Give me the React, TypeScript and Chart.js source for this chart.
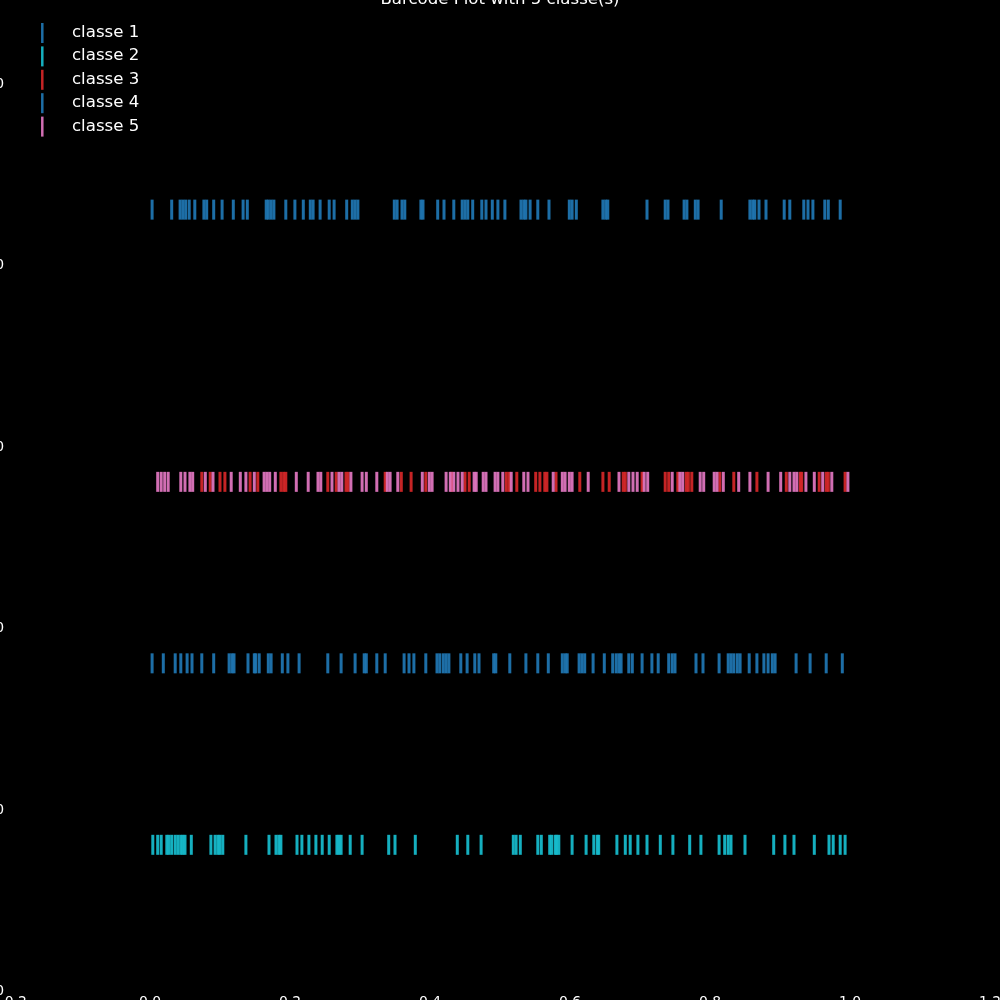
import React, { useEffect, useRef } from "react";
import { Chart, registerables } from "chart.js";

Chart.register(...registerables);

// ---------------- data ----------------
const TITLE = "Barcode Plot with 5 classe(s)";
const CLASS_NAMES = ["classe 1", "classe 2", "classe 3", "classe 4", "classe 5"];
// y value (row) of each class barcode
const CLASS_ROWS = [4.3, 0.8, 2.8, 1.8, 2.8];

const CLASSE_1 = [
  0.003, 0.031, 0.043, 0.047, 0.051, 0.056, 0.064, 0.077, 0.081, 0.091, 0.103, 0.119, 0.133, 0.139,
  0.166, 0.169, 0.173, 0.177, 0.194, 0.207, 0.219, 0.229, 0.233, 0.243, 0.256, 0.263, 0.281, 0.289,
  0.293, 0.297, 0.349, 0.353, 0.36, 0.364, 0.387, 0.39, 0.411, 0.42, 0.434, 0.446, 0.45, 0.454,
  0.461, 0.474, 0.48, 0.489, 0.497, 0.507, 0.53, 0.534, 0.537, 0.543, 0.554, 0.57, 0.599, 0.603,
  0.609, 0.647, 0.651, 0.654, 0.71, 0.736, 0.74, 0.763, 0.767, 0.779, 0.783, 0.816, 0.857, 0.861,
  0.864, 0.87, 0.88, 0.906, 0.914, 0.934, 0.94, 0.947, 0.964, 0.969, 0.986,
];

const CLASSE_2 = [
  0.004, 0.011, 0.016, 0.024, 0.027, 0.031, 0.036, 0.04, 0.044, 0.047, 0.05, 0.059, 0.087, 0.093,
  0.097, 0.1, 0.104, 0.137, 0.17, 0.18, 0.184, 0.187, 0.21, 0.217, 0.227, 0.237, 0.246, 0.256,
  0.267, 0.27, 0.273, 0.286, 0.303, 0.341, 0.35, 0.379, 0.439, 0.454, 0.473, 0.519, 0.523, 0.529,
  0.554, 0.559, 0.571, 0.574, 0.579, 0.581, 0.584, 0.603, 0.623, 0.634, 0.639, 0.641, 0.667, 0.679,
  0.686, 0.697, 0.71, 0.729, 0.747, 0.771, 0.787, 0.813, 0.821, 0.826, 0.83, 0.85, 0.891, 0.907,
  0.92, 0.949, 0.97, 0.976, 0.986, 0.993,
];

const CLASSE_3 = [
  0.074, 0.086, 0.1, 0.107, 0.143, 0.154, 0.187, 0.191, 0.194, 0.254, 0.266, 0.28, 0.283, 0.336,
  0.359, 0.373, 0.394, 0.431, 0.45, 0.456, 0.509, 0.513, 0.524, 0.551, 0.557, 0.564, 0.567, 0.58,
  0.614, 0.647, 0.656, 0.676, 0.679, 0.703, 0.736, 0.741, 0.754, 0.766, 0.769, 0.774, 0.814, 0.834,
  0.867, 0.909, 0.929, 0.931, 0.956, 0.966, 0.969, 0.993,
];

const CLASSE_4 = [
  0.003, 0.019, 0.036, 0.044, 0.053, 0.06, 0.074, 0.091, 0.113, 0.117, 0.12, 0.14, 0.149, 0.151,
  0.156, 0.169, 0.173, 0.189, 0.197, 0.213, 0.254, 0.273, 0.293, 0.306, 0.309, 0.324, 0.336, 0.363,
  0.37, 0.377, 0.394, 0.41, 0.414, 0.419, 0.423, 0.427, 0.444, 0.453, 0.464, 0.47, 0.491, 0.494,
  0.514, 0.537, 0.554, 0.569, 0.589, 0.593, 0.596, 0.613, 0.617, 0.621, 0.633, 0.649, 0.661, 0.666,
  0.67, 0.673, 0.684, 0.689, 0.703, 0.717, 0.726, 0.741, 0.746, 0.75, 0.78, 0.79, 0.813, 0.826,
  0.83, 0.834, 0.839, 0.843, 0.856, 0.867, 0.877, 0.883, 0.889, 0.893, 0.923, 0.943, 0.966, 0.989,
];

const CLASSE_5 = [
  0.011, 0.016, 0.021, 0.026, 0.044, 0.05, 0.057, 0.061, 0.079, 0.09, 0.116, 0.129, 0.137, 0.149,
  0.163, 0.167, 0.171, 0.179, 0.209, 0.226, 0.24, 0.244, 0.26, 0.27, 0.274, 0.287, 0.303, 0.309,
  0.324, 0.339, 0.343, 0.354, 0.389, 0.399, 0.403, 0.423, 0.429, 0.434, 0.44, 0.446, 0.463, 0.466,
  0.476, 0.48, 0.493, 0.497, 0.504, 0.516, 0.534, 0.54, 0.576, 0.589, 0.593, 0.599, 0.603, 0.626,
  0.67, 0.684, 0.69, 0.696, 0.706, 0.711, 0.746, 0.757, 0.761, 0.786, 0.791, 0.806, 0.81, 0.819,
  0.841, 0.857, 0.883, 0.901, 0.914, 0.92, 0.924, 0.937, 0.949, 0.961, 0.974, 0.997,
];

const CLASS_VALUES = [CLASSE_1, CLASSE_2, CLASSE_3, CLASSE_4, CLASSE_5];

const X_TICKS = [-0.2, 0.0, 0.2, 0.4, 0.6, 0.8, 1.0, 1.2];
const Y_TICKS = [0, 1, 2, 3, 4, 5];
const X_MIN = -0.2;
const X_MAX = 1.2;
const Y_MIN = 0;
const Y_MAX = 5.4;

// ---------------- styles ----------------
const COLORS = [
  "rgba(31,119,180,0.92)",
  "rgba(23,190,207,0.92)",
  "rgba(214,39,40,0.92)",
  "rgba(31,119,180,0.92)",
  "rgba(227,119,194,0.92)",
];
const FONT = '"DejaVu Sans", Verdana, sans-serif';

const fmt = (v: number) => {
  const s = Math.abs(v).toFixed(1);
  return v < -1e-9 ? "\u2212" + s : s;
};

const decorPlugin = {
  id: "barcodeDecor",
  beforeDraw(chart: any) {
    const ctx = chart.ctx;
    ctx.save();
    ctx.fillStyle = "#000000";
    ctx.fillRect(0, 0, chart.width, chart.height);
    ctx.restore();
  },
  afterDraw(chart: any) {
    const ctx = chart.ctx;
    ctx.save();
    // title
    ctx.fillStyle = "#ffffff";
    ctx.font = `16.6px ${FONT}`;
    ctx.textAlign = "center";
    ctx.textBaseline = "alphabetic";
    ctx.fillText(TITLE, 500, 4);
    // legend
    ctx.textAlign = "left";
    CLASS_NAMES.forEach((name, i) => {
      const yc = 33 + i * 23.4;
      ctx.strokeStyle = COLORS[i];
      ctx.lineWidth = 2.5;
      ctx.lineCap = "butt";
      ctx.beginPath();
      ctx.moveTo(42.3, yc - 10);
      ctx.lineTo(42.3, yc + 10);
      ctx.stroke();
      ctx.fillStyle = "#ffffff";
      ctx.font = `16.6px ${FONT}`;
      ctx.fillText(name, 72, yc + 4);
    });
    ctx.restore();
  },
};

export default function App() {
  const canvasRef = useRef<HTMLCanvasElement | null>(null);

  useEffect(() => {
    const canvas = canvasRef.current;
    if (!canvas) return;
    const datasets = CLASS_VALUES.map((vals, i) => ({
      label: CLASS_NAMES[i],
      data: vals.map((v) => ({ x: v, y: CLASS_ROWS[i] })),
      showLine: false,
      pointStyle: "line",
      pointRotation: 90,
      pointRadius: 10,
      pointHoverRadius: 10,
      pointBorderWidth: 3,
      pointHoverBorderWidth: 3,
      borderColor: COLORS[i],
      backgroundColor: COLORS[i],
      pointBorderColor: COLORS[i],
      pointBackgroundColor: COLORS[i],
      order: CLASS_NAMES.length - i,
    }));

    const chart = new Chart(canvas, {
      type: "scatter",
      data: { datasets } as any,
      options: {
        animation: false,
        responsive: false,
        maintainAspectRatio: false,
        events: [],
        layout: { autoPadding: false, padding: { top: 10, right: 10, bottom: 0, left: 0 } },
        plugins: {
          legend: { display: false },
          title: { display: false },
          tooltip: { enabled: false },
        },
        scales: {
          x: {
            type: "linear",
            min: X_MIN,
            max: X_MAX,
            grid: { display: false, drawTicks: false },
            border: { display: false },
            afterBuildTicks: (s: any) => {
              s.ticks = X_TICKS.map((v) => ({ value: v }));
            },
            afterFit: (s: any) => {
              s.height = 10;
              s.paddingLeft = 0;
              s.paddingRight = 0;
            },
            ticks: {
              color: "#ffffff",
              padding: 4,
              autoSkip: false,
              maxRotation: 0,
              font: { family: FONT, size: 13.9 },
              callback: (v: any) => fmt(Number(v)),
            },
          },
          y: {
            type: "linear",
            min: Y_MIN,
            max: Y_MAX,
            grid: { display: false, drawTicks: false },
            border: { display: false },
            afterBuildTicks: (s: any) => {
              s.ticks = Y_TICKS.map((v) => ({ value: v }));
            },
            afterFit: (s: any) => {
              s.width = 10;
              s.paddingTop = 0;
              s.paddingBottom = 0;
            },
            ticks: {
              color: "#ffffff",
              padding: 6,
              labelOffset: 1.5,
              autoSkip: false,
              font: { family: FONT, size: 13.9 },
              callback: (v: any) => fmt(Number(v)),
            },
          },
        },
      } as any,
      plugins: [decorPlugin],
    });
    return () => chart.destroy();
  }, []);

  return (
    <div
      style={{
        position: "fixed",
        left: 0,
        top: 0,
        width: 1000,
        height: 1000,
        overflow: "hidden",
        background: "#000000",
      }}
    >
      <canvas ref={canvasRef} width={1000} height={1000} style={{ display: "block" }} />
    </div>
  );
}
